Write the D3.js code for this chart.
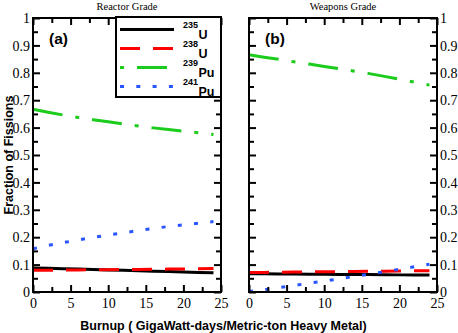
<!DOCTYPE html>
<html><head><meta charset="utf-8">
<script src="https://cdn.jsdelivr.net/npm/d3@7"></script>
<style>body{margin:0;background:#fff}svg{display:block}</style>
</head><body><svg id="c" width="458" height="333"></svg>
<script>
const burnup = [0,2,4,6,8,10,12,14,16,18,20,22,24];
const reactorU235  = [0.088,0.0865,0.085,0.0835,0.082,0.0805,0.079,0.0775,0.076,0.0745,0.073,0.0715,0.070];
const reactorU238  = [0.079,0.0795,0.080,0.0805,0.081,0.0815,0.082,0.0825,0.083,0.0835,0.084,0.085,0.0855];
const reactorPu239 = [0.667,0.656,0.646,0.637,0.629,0.621,0.613,0.606,0.599,0.593,0.587,0.581,0.575];
const reactorPu241 = [0.158,0.170,0.180,0.190,0.199,0.208,0.216,0.224,0.232,0.239,0.245,0.251,0.257];
const weaponsU235  = [0.067,0.0665,0.066,0.0655,0.065,0.0645,0.064,0.064,0.0635,0.063,0.0625,0.062,0.062];
const weaponsU238  = [0.071,0.0715,0.072,0.073,0.0735,0.074,0.0745,0.075,0.0755,0.076,0.077,0.0775,0.078];
const weaponsPu239 = [0.866,0.857,0.849,0.840,0.832,0.823,0.815,0.806,0.797,0.787,0.777,0.766,0.755];
const weaponsPu241 = [0.002,0.008,0.016,0.024,0.032,0.040,0.048,0.057,0.065,0.074,0.083,0.092,0.101];
const xTicks = [0,5,10,15,20,25];
const xMinorTicks = [2.5,7.5,12.5,17.5,22.5];
const yTicks = [0,0.1,0.2,0.3,0.4,0.5,0.6,0.7,0.8,0.9,1];
const yTickLabels = ["0","0.1","0.2","0.3","0.4","0.5","0.6","0.7","0.8","0.9","1"];
const yMinorTicks = [0.05,0.15,0.25,0.35,0.45,0.55,0.65,0.75,0.85,0.95];
const panelTitles = ["Reactor Grade","Weapons Grade"];
const panelLabels = ["(a)","(b)"];
const isotopes = [{m:"235",e:"U"},{m:"238",e:"U"},{m:"239",e:"Pu"},{m:"241",e:"Pu"}];

const styles = [
  {color:"#000000", dash:null},
  {color:"#ff0000", dash:"20,13"},
  {color:"#1ccc1c", dash:"30,13,4,13"},
  {color:"#2a55ff", dash:"4,12.3"}
];

const svg = d3.select("#c");
const yTop = 18, yBottom = 292;
const panels = [
  {x0:33, x1:221, series:[reactorU235,reactorU238,reactorPu239,reactorPu241], side:"left"},
  {x0:249, x1:437, series:[weaponsU235,weaponsU238,weaponsPu239,weaponsPu241], side:"right"}
];
const y = d3.scaleLinear().domain([0,1]).range([yBottom, yTop]);
const serif = "'Liberation Serif','Times New Roman',Times,serif";
const sans = "'Liberation Sans',Arial,Helvetica,sans-serif";

function styleAxis(g){
  g.attr("font-family",null).attr("font-size",null);
  g.select(".domain").remove();
  g.selectAll(".tick line").attr("stroke","#000").attr("stroke-width",2);
  g.selectAll(".tick text").style("font-family",serif).style("font-size","14px").attr("fill","#000");
}

panels.forEach((p,i)=>{
  const x = d3.scaleLinear().domain([0,25]).range([p.x0,p.x1]);
  const g = svg.append("g");
  const line = (vals)=>d3.line().x((d,j)=>x(burnup[j])).y(d=>y(d))(vals);
  p.series.forEach((vals,k)=>{
    g.append("path").attr("d", line(vals)).attr("fill","none")
      .attr("stroke", styles[k].color).attr("stroke-width",3)
      .attr("stroke-dasharray", styles[k].dash);
  });
  const xb = g.append("g").attr("transform",`translate(0,${yBottom})`)
    .call(d3.axisBottom(x).tickValues(xTicks).tickSize(-7).tickSizeOuter(0).tickPadding(6).tickFormat(d3.format("d")));
  styleAxis(xb);
  const xbm = g.append("g").attr("transform",`translate(0,${yBottom})`)
    .call(d3.axisBottom(x).tickValues(xMinorTicks).tickSize(-5).tickSizeOuter(0).tickFormat(""));
  styleAxis(xbm);
  const xt = g.append("g").attr("transform",`translate(0,${yTop})`)
    .call(d3.axisTop(x).tickValues(xTicks).tickSize(-7).tickSizeOuter(0).tickFormat(""));
  styleAxis(xt);
  const xtm = g.append("g").attr("transform",`translate(0,${yTop})`)
    .call(d3.axisTop(x).tickValues(xMinorTicks).tickSize(-5).tickSizeOuter(0).tickFormat(""));
  styleAxis(xtm);
  const labeled = p.side==="left" ? d3.axisLeft : d3.axisRight;
  const unlabeled = p.side==="left" ? d3.axisRight : d3.axisLeft;
  const lx = p.side==="left" ? p.x0 : p.x1;
  const ux = p.side==="left" ? p.x1 : p.x0;
  const ya = g.append("g").attr("transform",`translate(${lx},0)`)
    .call(labeled(y).tickValues(yTicks).tickSize(-7).tickSizeOuter(0).tickPadding(3).tickFormat((d,j)=>yTickLabels[j]));
  styleAxis(ya);
  ya.selectAll(".tick text").attr("dy","0.34em");
  const yam = g.append("g").attr("transform",`translate(${lx},0)`)
    .call(labeled(y).tickValues(yMinorTicks).tickSize(-5).tickSizeOuter(0).tickFormat(""));
  styleAxis(yam);
  const yb = g.append("g").attr("transform",`translate(${ux},0)`)
    .call(unlabeled(y).tickValues(yTicks).tickSize(-7).tickSizeOuter(0).tickFormat(""));
  styleAxis(yb);
  const ybm = g.append("g").attr("transform",`translate(${ux},0)`)
    .call(unlabeled(y).tickValues(yMinorTicks).tickSize(-5).tickSizeOuter(0).tickFormat(""));
  styleAxis(ybm);
  g.append("rect").attr("x",p.x0).attr("y",yTop).attr("width",p.x1-p.x0).attr("height",yBottom-yTop)
    .attr("fill","none").attr("stroke","#000").attr("stroke-width",2);
  g.append("text").attr("x",(p.x0+p.x1)/2).attr("y",10).attr("text-anchor","middle")
    .style("font-family",serif).style("font-size","10.5px").text(panelTitles[i]);
  g.append("text").attr("x",p.x0+16).attr("y",43.5)
    .style("font-family",sans).attr("font-weight","bold").style("font-size","15.5px").text(panelLabels[i]);
});

const lg = svg.append("g");
lg.append("rect").attr("x",116).attr("y",17).attr("width",105).attr("height",80)
  .attr("fill","#fff").attr("stroke","#000").attr("stroke-width",2);
const legOffsets = [0,0,43,0];
isotopes.forEach((iso,k)=>{
  const ly = 29.5 + k*19;
  lg.append("line").attr("x1",120).attr("x2",174).attr("y1",ly).attr("y2",ly)
    .attr("stroke",styles[k].color).attr("stroke-width",3)
    .attr("stroke-dasharray",styles[k].dash).attr("stroke-dashoffset",legOffsets[k]);
  const t = lg.append("text").attr("x",183).attr("y",ly+9)
    .style("font-family",sans).attr("font-weight","bold");
  t.append("tspan").style("font-size","9px").attr("dy",-11).text(iso.m);
  t.append("tspan").style("font-size","12.5px").attr("dy",11).attr("dx",0.5).text(iso.e);
});

svg.append("text").attr("x",223.5).attr("y",330).attr("text-anchor","middle")
  .style("font-family",sans).attr("font-weight","bold").style("font-size","12.5px")
  .text("Burnup ( GigaWatt-days/Metric-ton Heavy Metal)");
svg.append("text").attr("transform","translate(13,155) rotate(-90)").attr("text-anchor","middle")
  .style("font-family",sans).attr("font-weight","bold").style("font-size","12.5px")
  .text("Fraction of Fissions");
</script></body></html>
